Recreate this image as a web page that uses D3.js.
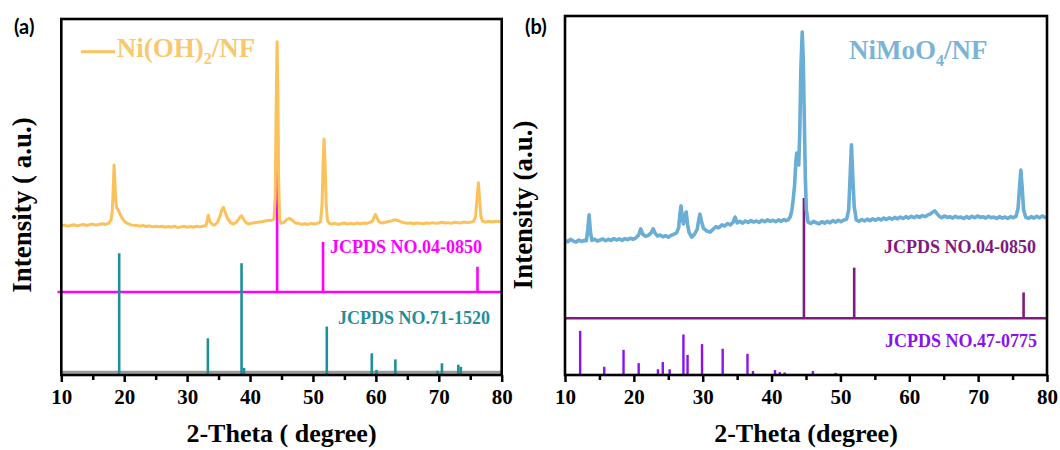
<!DOCTYPE html>
<html><head><meta charset="utf-8">
<script src="https://cdn.jsdelivr.net/npm/d3@7"></script>
<style>body{margin:0;background:#fff;} svg{display:block;}</style>
</head><body>
<svg id="chart" width="1060" height="450"></svg>
<script>
// ---------- DATA ----------
const xTicks = [10, 20, 30, 40, 50, 60, 70, 80];
const xMinorTicks = [15, 25, 35, 45, 55, 65, 75];

// (a) Ni(OH)2/NF measured pattern [2θ, intensity]
const niohCurve = [
[10.0,41.9],[10.5,42.1],[11.0,41.8],[11.5,42.0],[12.0,42.2],[12.5,41.9],[13.0,42.1],[13.5,42.3],[14.0,42.0],[14.5,42.2],
[15.0,42.4],[15.5,42.1],[16.0,42.3],[16.5,42.5],[17.0,42.3],[17.5,42.6],[17.9,43.5],[18.1,46.0],[18.25,52.0],[18.38,59.0],
[18.5,55.0],[18.65,49.0],[18.8,47.0],[19.06,46.3],[19.3,45.3],[19.6,44.2],[20.0,43.2],[20.5,42.6],[21.2,42.1],[22.0,42.0],
[22.5,41.8],[23.0,42.0],[23.5,41.7],[24.0,41.9],[24.5,41.6],[25.0,41.8],[25.5,41.6],[26.0,41.8],[26.5,41.5],[27.0,41.7],
[27.5,41.5],[28.0,41.8],[28.5,41.4],[29.0,41.6],[29.5,41.8],[30.0,41.5],[30.5,41.7],[31.0,41.5],[31.5,41.8],[32.0,41.6],
[32.5,41.8],[33.0,42.0],[33.2,43.5],[33.37,44.9],[33.6,43.2],[34.0,42.3],[34.3,42.1],[34.8,42.8],[35.2,44.5],[35.5,46.3],
[35.76,47.1],[36.0,46.0],[36.4,44.0],[36.9,42.8],[37.35,42.4],[37.8,42.9],[38.2,43.8],[38.5,44.6],[38.68,44.7],[38.9,44.0],
[39.3,42.9],[39.73,42.4],[40.2,42.6],[40.8,42.8],[41.5,43.0],[42.0,43.1],[42.5,43.3],[43.0,43.4],[43.5,43.5],[43.8,43.7],
[44.0,50.0],[44.15,75.0],[44.3,93.6],[44.42,80.0],[44.55,55.0],[44.7,44.0],[44.9,42.6],[45.3,42.8],[45.8,43.6],[46.25,44.0],
[46.7,43.5],[47.2,42.7],[47.7,42.6],[48.2,42.3],[48.7,42.5],[49.2,42.3],[49.7,42.6],[50.2,42.4],[50.7,42.6],[51.2,43.0],
[51.45,48.0],[51.62,60.0],[51.77,66.3],[51.92,60.0],[52.1,48.0],[52.3,43.5],[52.6,42.6],[53.0,42.4],[53.5,42.6],[54.0,42.3],
[54.5,42.5],[55.0,42.7],[55.5,42.4],[56.0,42.6],[56.5,42.4],[57.0,42.7],[57.5,42.5],[58.0,42.7],[58.5,42.6],[59.0,42.8],
[59.5,43.3],[59.75,44.5],[59.93,45.1],[60.15,44.3],[60.5,43.0],[61.0,42.7],[61.5,42.9],[62.0,43.1],[62.5,43.3],[63.05,43.6],
[63.5,43.4],[64.0,43.0],[64.5,42.8],[65.0,42.6],[65.5,42.7],[66.0,42.5],[66.5,42.7],[67.0,42.6],[67.5,42.5],[68.0,42.7],
[68.5,42.6],[69.0,42.8],[69.5,42.6],[70.0,42.7],[70.5,42.9],[71.0,42.7],[71.5,42.8],[72.0,42.6],[72.5,42.9],[73.0,42.8],
[73.5,42.7],[74.0,43.0],[74.5,42.8],[75.0,42.9],[75.5,43.1],[75.85,44.5],[76.05,49.0],[76.3,54.0],[76.5,49.0],[76.7,44.5],
[76.95,43.2],[77.5,43.0],[78.0,43.2],[78.5,43.0],[79.0,43.2],[79.5,43.1],[80.0,43.1]
];

// (a) JCPDS 04-0850 (Ni) sticks [2θ, top], baseline value
const niRefBaseA = 23.3;
const niRefA = [[44.3,57.1],[51.6,37.4],[76.15,30.4]];

// (a) JCPDS 71-1520 (Ni(OH)2) sticks [2θ, top]
const nihRef = [[19.2,34.2],[33.3,10.3],[38.65,31.4],[39.05,2.0],[52.2,13.6],[59.35,6.1],[60.1,1.4],[63.1,4.4],[69.8,1.2],[70.5,3.3],[73.1,2.9],[73.5,2.3]];
const nihRefBase = 0.8;

// (b) NiMoO4/NF measured pattern [2θ, intensity]
const nimoCurve = [
[10.0,37.6],[10.4,37.1],[10.8,37.8],[11.2,37.3],[11.6,37.0],[12.0,37.6],[12.4,37.2],[12.8,37.5],[13.1,37.4],[13.3,40.4],
[13.5,44.6],[13.7,39.8],[13.9,37.5],[14.3,37.8],[14.7,37.3],[15.1,37.6],[15.5,37.9],[15.9,37.4],[16.3,37.8],[16.7,37.5],
[17.1,38.0],[17.5,37.6],[17.9,37.9],[18.3,37.5],[18.7,38.0],[19.1,37.7],[19.5,38.1],[19.9,37.8],[20.3,38.2],[20.7,39.0],
[21.0,40.7],[21.3,39.2],[21.7,38.6],[22.1,38.9],[22.5,39.6],[22.8,40.7],[23.1,39.5],[23.4,38.7],[23.8,39.0],[24.2,38.5],
[24.6,38.8],[25.0,38.4],[25.4,38.9],[25.8,39.2],[26.2,39.6],[26.5,41.0],[26.7,45.0],[26.85,47.1],[27.0,44.0],[27.2,42.1],
[27.4,44.5],[27.6,45.4],[27.8,42.0],[28.0,39.8],[28.4,38.4],[28.8,39.2],[29.2,40.6],[29.45,43.5],[29.6,44.8],[29.8,43.0],
[30.1,40.9],[30.6,40.1],[31.1,39.8],[31.5,40.6],[31.9,41.3],[32.3,41.0],[32.8,41.8],[33.2,41.5],[33.6,42.2],[34.0,41.8],
[34.4,42.5],[34.7,44.0],[35.0,42.4],[35.4,42.8],[35.8,42.3],[36.2,42.9],[36.6,42.5],[37.0,43.0],[37.4,42.6],[37.8,42.9],
[38.2,42.5],[38.6,43.1],[39.0,42.7],[39.4,43.2],[39.8,42.8],[40.2,43.1],[40.6,42.7],[41.0,43.2],[41.4,42.8],[41.8,43.3],
[42.1,43.0],[42.4,43.2],[42.7,44.0],[42.95,45.8],[43.15,49.0],[43.35,53.0],[43.5,58.5],[43.65,61.8],[43.8,60.0],[43.95,58.5],
[44.1,68.0],[44.25,85.0],[44.45,95.5],[44.6,88.0],[44.75,72.0],[44.9,55.0],[45.05,46.0],[45.3,42.6],[45.7,42.2],[46.1,42.8],
[46.5,42.4],[46.9,42.1],[47.3,42.7],[47.7,42.3],[48.1,42.8],[48.5,42.4],[48.9,43.0],[49.3,42.6],[49.7,43.1],[50.1,42.7],
[50.5,43.2],[50.9,43.4],[51.2,46.0],[51.4,55.0],[51.6,64.1],[51.8,55.0],[52.0,47.0],[52.3,43.2],[52.7,42.8],[53.1,43.3],
[53.5,42.9],[53.9,43.4],[54.3,43.0],[54.7,43.5],[55.1,43.1],[55.5,43.6],[55.9,43.2],[56.3,43.7],[56.7,43.3],[57.1,43.8],
[57.5,43.4],[57.9,43.9],[58.3,43.5],[58.7,44.0],[59.1,43.6],[59.5,44.1],[59.9,43.7],[60.3,44.2],[60.7,43.8],[61.1,44.3],
[61.5,43.9],[61.9,44.4],[62.3,44.1],[62.7,44.6],[63.1,44.9],[63.4,45.4],[63.7,45.7],[64.0,45.0],[64.3,44.3],[64.7,43.8],
[65.1,44.3],[65.5,43.9],[65.9,44.1],[66.3,43.7],[66.7,44.2],[67.1,43.8],[67.5,44.0],[67.9,43.6],[68.3,44.1],[68.7,43.7],
[69.1,44.2],[69.5,43.8],[69.9,44.3],[70.3,43.9],[70.7,44.1],[71.1,43.7],[71.5,44.2],[71.9,43.8],[72.3,44.0],[72.7,43.6],
[73.1,44.1],[73.5,43.7],[73.9,44.0],[74.3,43.6],[74.7,44.1],[75.1,43.8],[75.5,44.2],[75.8,46.5],[76.0,52.0],[76.2,57.1],
[76.4,52.0],[76.6,46.0],[76.9,44.0],[77.3,43.6],[77.7,44.1],[78.1,43.7],[78.5,44.2],[78.9,43.8],[79.3,44.3],[79.7,43.9],[80.0,44.0]
];

// (b) JCPDS 04-0850 sticks
const niRefBaseB = 15.8;
const niRefB = [[44.7,49.3],[52.0,29.9],[76.6,23.0]];

// (b) JCPDS 47-0775 (NiMoO4) sticks
const nimoRef = [[12.2,12.3],[15.7,2.3],[18.5,7.0],[20.7,3.3],[23.5,1.6],[24.2,3.6],[25.2,1.6],[27.2,11.3],[27.8,5.6],[29.9,8.6],
[32.9,7.3],[36.5,5.9],[37.3,1.1],[40.5,1.4],[41.2,0.8],[41.9,0.7],[46.0,1.1],[49.3,0.6]];

// ---------- DRAWING ----------
const SERIF = "'Liberation Serif','Times New Roman',serif";
const SANS = "Lato,'Liberation Sans',Arial,sans-serif";
const svg = d3.select('#chart');

function panel(cfg) {
  const g = svg.append('g');
  const x = d3.scaleLinear().domain([10, 80]).range([cfg.left, cfg.right]);
  const y = d3.scaleLinear().domain([0, 100]).range([cfg.bottom, cfg.top]);

  // reference baselines
  cfg.hlines.forEach(h => {
    g.append('line').attr('x1', x(h.from)).attr('x2', x(80))
      .attr('y1', y(h.v)).attr('y2', y(h.v))
      .attr('stroke', h.color).attr('stroke-width', h.w);
  });
  // sticks
  cfg.sticks.forEach(s => {
    g.selectAll(null).data(s.data).enter().append('line')
      .attr('x1', d => x(d[0])).attr('x2', d => x(d[0]))
      .attr('y1', y(s.base)).attr('y2', d => y(d[1]))
      .attr('stroke', s.color).attr('stroke-width', s.w);
  });
  // measured curve
  g.append('path').datum(cfg.curve)
    .attr('d', d3.line().x(d => x(d[0])).y(d => y(d[1])))
    .attr('fill', 'none').attr('stroke', cfg.curveColor)
    .attr('stroke-width', cfg.curveW).attr('stroke-linejoin', 'round');

  // frame
  g.append('rect').attr('x', cfg.left).attr('y', cfg.top)
    .attr('width', cfg.right - cfg.left).attr('height', cfg.bottom - cfg.top)
    .attr('fill', 'none').attr('stroke', '#000').attr('stroke-width', 2.6);

  // axis ticks
  const ax = g.append('g').attr('transform', `translate(0,${cfg.bottom})`)
    .call(d3.axisBottom(x).tickValues(xTicks).tickSize(7).tickSizeOuter(0).tickFormat(d3.format('d')));
  ax.select('.domain').remove();
  ax.selectAll('.tick line').attr('stroke', '#000').attr('stroke-width', 2.5);
  ax.selectAll('.tick text').attr('y', 29).attr('dy', 0)
    .attr('font-family', SERIF).attr('font-weight', 'bold').attr('font-size', 21).attr('fill', '#000');
  const axm = g.append('g').attr('transform', `translate(0,${cfg.bottom})`)
    .call(d3.axisBottom(x).tickValues(xMinorTicks).tickSize(5).tickSizeOuter(0).tickFormat(''));
  axm.select('.domain').remove();
  axm.selectAll('.tick line').attr('stroke', '#000').attr('stroke-width', 2.5);

  // axis titles
  g.append('text').attr('x', (cfg.left + cfg.right) / 2).attr('y', 442)
    .attr('text-anchor', 'middle').attr('font-family', SERIF).attr('font-weight', 'bold')
    .attr('font-size', 26).attr('fill', '#000').text(cfg.xTitle);
  g.append('text').attr('transform', `translate(${cfg.yTitleX},205) rotate(-90)`)
    .attr('text-anchor', 'middle').attr('font-family', SERIF).attr('font-weight', 'bold')
    .attr('font-size', 27).attr('fill', '#000').text(cfg.yTitle);
  // panel letter
  g.append('text').attr('x', cfg.letterX).attr('y', 34)
    .attr('font-family', SANS).attr('font-weight', 'bold').attr('font-size', 20)
    .attr('fill', '#000').text(cfg.letter);

  // labels
  cfg.labels.forEach(l => {
    g.append('text').attr('x', l.x).attr('y', l.y).attr('font-family', SERIF)
      .attr('font-weight', 'bold').attr('font-size', 18).attr('fill', l.color).text(l.text);
  });
  return {g, x, y};
}

const cOrange = '#FBC15B', cMag = '#FF00FF', cTeal = '#1F8F99';
const cBlue = '#6AADD5', cPurp = '#7F1A7F', cViol = '#8A12EE';

const A = panel({
  left: 61.3, right: 501.7, top: 19, bottom: 375,
  curve: niohCurve, curveColor: cOrange, curveW: 3,
  hlines: [{v: nihRefBase, from: 10, color: '#9a9a9a', w: 3}, {v: niRefBaseA, from: 9.4, color: cMag, w: 2.6}],
  sticks: [{data: niRefA, base: niRefBaseA, color: cMag, w: 2.6},
           {data: nihRef, base: 0, color: cTeal, w: 2.6}],
  xTitle: '2-Theta ( degree)', yTitle: 'Intensity ( a.u.)', yTitleX: 31,
  letter: '(a)', letterX: 14,
  labels: [{text: 'JCPDS NO.04-0850', x: 330, y: 253, color: cMag},
           {text: 'JCPDS NO.71-1520', x: 338, y: 323.5, color: cTeal}]
});

const B = panel({
  left: 565, right: 1047, top: 16, bottom: 375,
  curve: nimoCurve, curveColor: cBlue, curveW: 3.6,
  hlines: [{v: niRefBaseB, from: 10, color: cPurp, w: 2.6}],
  sticks: [{data: niRefB, base: niRefBaseB, color: cPurp, w: 2.6},
           {data: nimoRef, base: 0, color: cViol, w: 2.4}],
  xTitle: '2-Theta (degree)', yTitle: 'Intensity (a.u.)', yTitleX: 532,
  letter: '(b)', letterX: 525,
  labels: [{text: 'JCPDS NO.04-0850', x: 884, y: 253, color: cPurp},
           {text: 'JCPDS NO.47-0775', x: 885, y: 346.5, color: cViol}]
});

// legend (a)
A.g.append('line').attr('x1', 81).attr('x2', 115).attr('y1', 51.7).attr('y2', 51.7)
  .attr('stroke', cOrange).attr('stroke-width', 3);
const la = A.g.append('text').attr('x', 116.7).attr('y', 57)
  .attr('font-family', SERIF).attr('font-weight', 'bold').attr('font-size', 27).attr('fill', '#F8C96F');
la.append('tspan').text('Ni(OH)');
la.append('tspan').attr('font-size', 16).attr('dy', 7).text('2');
la.append('tspan').attr('dy', -7).text('/NF');

// legend (b)
const lb = B.g.append('text').attr('x', 849).attr('y', 59)
  .attr('font-family', SERIF).attr('font-weight', 'bold').attr('font-size', 27).attr('fill', '#7CB4D8');
lb.append('tspan').text('NiMoO');
lb.append('tspan').attr('font-size', 16).attr('dy', 7).text('4');
lb.append('tspan').attr('dy', -7).text('/NF');
</script>
</body></html>
